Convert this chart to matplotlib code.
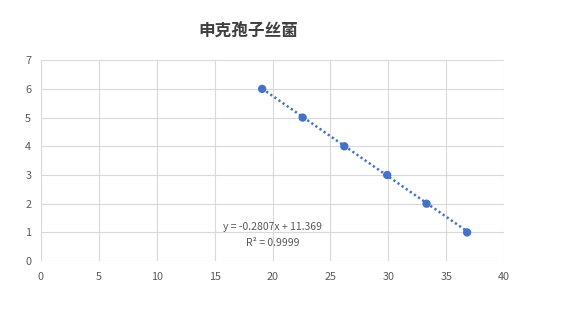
import matplotlib
matplotlib.use("Agg")
import matplotlib.pyplot as plt
import numpy as np

plt.rcParams['font.family'] = ['Noto Sans CJK SC', 'DejaVu Sans']

title = "申克孢子丝菌"
x_vals = [19.1, 22.6, 26.2, 29.9, 33.3, 36.8]
y_vals = [6, 5, 4, 3, 2, 1]
slope = -0.2807
intercept = 11.369
eq_text = "y = -0.2807x + 11.369"
r2_text = "R² = 0.9999"
x_ticks = [0, 5, 10, 15, 20, 25, 30, 35, 40]
y_ticks = [0, 1, 2, 3, 4, 5, 6, 7]

fig = plt.figure(figsize=(5.69, 3.2), dpi=100)
ax = fig.add_axes([0.072, 0.184, 0.814, 0.628])

blue = "#4472C4"
xs = np.array([min(x_vals), max(x_vals)])
ax.plot(xs, slope * xs + intercept, linestyle=(0, (0.9, 1.1)), color=blue, linewidth=1.8, zorder=2)
ax.scatter(x_vals, y_vals, s=36, color=blue, zorder=3, edgecolors='none')

ax.set_xlim(0, 40)
ax.set_ylim(0, 7)
ax.set_xticks(x_ticks)
ax.set_yticks(y_ticks)
ax.grid(True, color="#d9d9d9", linewidth=0.8)
ax.set_axisbelow(True)
for s in ax.spines.values():
    s.set_visible(False)
ax.tick_params(axis='x', length=0, labelsize=7.8, labelcolor="#595959", pad=8)
ax.tick_params(axis='y', length=0, labelsize=7.8, labelcolor="#595959", pad=7)

ax.text(20, 1.18, eq_text, ha='center', va='center', fontsize=7.5, color="#595959")
ax.text(20, 0.64, r2_text, ha='center', va='center', fontsize=7.5, color="#595959")

fig.text(0.436, 0.9, title, ha='center', va='center', fontsize=12, fontweight='bold', color="#404040")

fig.savefig("out.png", dpi=100, facecolor='white')
